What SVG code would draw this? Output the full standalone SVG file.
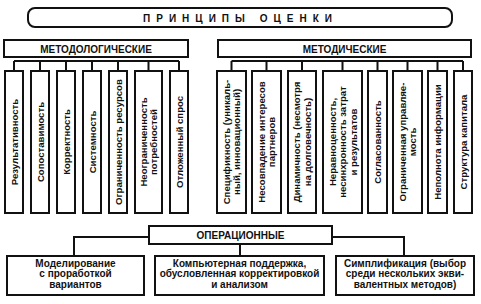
<svg xmlns="http://www.w3.org/2000/svg" width="481" height="304" viewBox="0 0 481 304">
<style>
.b{fill:#fff;stroke:#111;stroke-width:2}
.c{fill:none;stroke:#111;stroke-width:2}
text{font-family:"Liberation Sans",Arial,sans-serif;font-weight:bold;font-size:10px;fill:#111}
.m{text-anchor:middle}
.v{text-anchor:middle;font-size:9.6px}
</style>
<rect width="481" height="304" fill="#fff"/>
<g id="title">
<rect class="b" x="28" y="8" width="424" height="19" rx="7"/>
<text x="143" y="21.5" textLength="189" lengthAdjust="spacing">ПРИНЦИПЫ ОЦЕНКИ</text>
</g>
<g id="connectors">
<path class="c" d="M14,61H179M14,61V70M40,61V70M66,61V70M92,61V70M118,61V70M148.5,61V70M179,61V70"/>
<path class="c" d="M231.5,61H463M231.5,61V70M266.5,61V70M302,61V70M342.5,61V70M377.5,61V70M407.5,61V70M437.5,61V70M463,61V70"/>
<path class="c" d="M148,237H74V256M333,237H404V256M240,245V256"/>
</g>
<g id="metodolog">
<rect class="b" x="4" y="40" width="184" height="17"/>
<text class="m" x="96" y="52.5">МЕТОДОЛОГИЧЕСКИЕ</text>
</g>
<g id="metodich">
<rect class="b" x="218" y="40" width="253" height="17"/>
<text class="m" x="344.5" y="52.5">МЕТОДИЧЕСКИЕ</text>
</g>
<g id="l1"><rect class="b" x="5" y="71" width="18" height="142"/><text class="v" transform="translate(17.5,142) rotate(-90)">Результативность</text></g>
<g id="l2"><rect class="b" x="31" y="71" width="18" height="142"/><text class="v" transform="translate(43.5,142) rotate(-90)">Сопоставимость</text></g>
<g id="l3"><rect class="b" x="57" y="71" width="18" height="142"/><text class="v" transform="translate(69.5,142) rotate(-90)">Корректность</text></g>
<g id="l4"><rect class="b" x="83" y="71" width="18" height="142"/><text class="v" transform="translate(95.5,142) rotate(-90)">Системность</text></g>
<g id="l5"><rect class="b" x="109" y="71" width="18" height="142"/><text class="v" transform="translate(121.5,142) rotate(-90)">Ограниченность ресурсов</text></g>
<g id="l6"><rect class="b" x="135" y="71" width="27" height="142"/><text class="v" transform="translate(146.75,142) rotate(-90)"><tspan x="0">Неограниченность</tspan><tspan x="0" dy="10.5">потребностей</tspan></text></g>
<g id="l7"><rect class="b" x="170" y="71" width="18" height="142"/><text class="v" transform="translate(182.5,142) rotate(-90)">Отложенный спрос</text></g>
<g id="r1"><rect class="b" x="217" y="71" width="29" height="142"/><text class="v" transform="translate(229.75,142) rotate(-90)"><tspan x="0">Спецификность (уникаль-</tspan><tspan x="0" dy="10.5">ный, инновационный)</tspan></text></g>
<g id="r2"><rect class="b" x="252" y="71" width="29" height="142"/><text class="v" transform="translate(264.75,142) rotate(-90)"><tspan x="0">Несовпадение интересов</tspan><tspan x="0" dy="10.5">партнеров</tspan></text></g>
<g id="r3"><rect class="b" x="288" y="71" width="28" height="142"/><text class="v" transform="translate(300.25,142) rotate(-90)"><tspan x="0">Динамичность (несмотря</tspan><tspan x="0" dy="10.5">на долговечность)</tspan></text></g>
<g id="r4"><rect class="b" x="323" y="71" width="39" height="142"/><text class="v" transform="translate(335.5,142) rotate(-90)"><tspan x="0">Неравноценность,</tspan><tspan x="0" dy="10.5">несинхронность затрат</tspan><tspan x="0" dy="10.5">и результатов</tspan></text></g>
<g id="r5"><rect class="b" x="368" y="71" width="19" height="142"/><text class="v" transform="translate(381,142) rotate(-90)">Согласованность</text></g>
<g id="r6"><rect class="b" x="393" y="71" width="29" height="142"/><text class="v" transform="translate(405.75,142) rotate(-90)"><tspan x="0">Ограниченная управляе-</tspan><tspan x="0" dy="10.5">мость</tspan></text></g>
<g id="r7"><rect class="b" x="428" y="71" width="19" height="142"/><text class="v" transform="translate(441,142) rotate(-90)">Неполнота информации</text></g>
<g id="r8"><rect class="b" x="454" y="71" width="18" height="142"/><text class="v" transform="translate(466.5,142) rotate(-90)">Структура капитала</text></g>
<g id="oper">
<rect class="b" x="149" y="226" width="183" height="18"/>
<text class="m" x="240.5" y="239">ОПЕРАЦИОННЫЕ</text>
</g>
<g id="o1"><rect class="b" x="7" y="256" width="137" height="39"/><text class="m"><tspan x="75.5" y="266.5">Моделирование</tspan><tspan x="75.5" y="277">с проработкой</tspan><tspan x="75.5" y="287.5">вариантов</tspan></text></g>
<g id="o2"><rect class="b" x="155" y="256" width="169" height="39"/><text class="m"><tspan x="239.5" y="266.5">Компьютерная поддержка,</tspan><tspan x="239.5" y="277">обусловленная корректировкой</tspan><tspan x="239.5" y="287.5">и анализом</tspan></text></g>
<g id="o3"><rect class="b" x="336" y="256" width="138" height="39"/><text class="m"><tspan x="405" y="266.5">Симплификация (выбор</tspan><tspan x="405" y="277">среди нескольких экви-</tspan><tspan x="405" y="287.5">валентных методов)</tspan></text></g>
</svg>
